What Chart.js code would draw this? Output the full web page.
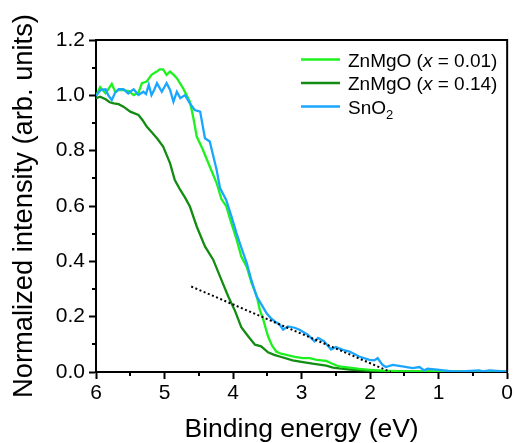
<!DOCTYPE html>
<html>
<head>
<meta charset="utf-8">
<script src="https://cdn.jsdelivr.net/npm/chart.js@4.4.1/dist/chart.umd.min.js"></script>
<style>
  html, body { margin: 0; padding: 0; background: #fff; }
  #wrap { width: 515px; height: 443px; }
</style>
</head>
<body>
<div id="wrap"><canvas id="vbChart" width="515" height="443"></canvas></div>
<script>
// --- DATA ---
// ZnMgO (x = 0.01)
const energyZnLow = [6.00, 5.94, 5.86, 5.77, 5.72, 5.66, 5.60, 5.52, 5.45, 5.38, 5.33, 5.26, 5.19, 5.12, 5.07, 5.02, 4.97, 4.92, 4.87, 4.82, 4.73, 4.63, 4.58, 4.53, 4.44, 4.34, 4.24, 4.17, 4.10, 4.04, 3.95, 3.88, 3.80, 3.73, 3.66, 3.61, 3.56, 3.49, 3.43, 3.37, 3.30, 3.22, 3.10, 2.98, 2.88, 2.78, 2.64, 2.55, 2.45, 2.30, 2.16, 2.00, 1.82, 1.60, 1.30, 1.00, 0.50, 0.00];
const intensityZnLow = [0.998, 1.030, 1.007, 1.041, 1.013, 1.020, 1.019, 1.015, 1.001, 1.010, 1.044, 1.050, 1.074, 1.085, 1.094, 1.094, 1.074, 1.086, 1.075, 1.062, 1.026, 0.977, 0.920, 0.851, 0.803, 0.743, 0.683, 0.625, 0.600, 0.550, 0.480, 0.417, 0.380, 0.321, 0.280, 0.225, 0.190, 0.129, 0.095, 0.074, 0.066, 0.062, 0.055, 0.050, 0.050, 0.044, 0.040, 0.030, 0.020, 0.016, 0.011, 0.008, 0.005, 0.003, 0.002, 0.001, 0.001, 0.001];

// ZnMgO (x = 0.14)
const energyZnHigh = [6.00, 5.94, 5.86, 5.80, 5.74, 5.67, 5.60, 5.50, 5.38, 5.32, 5.26, 5.18, 5.11, 5.02, 4.97, 4.92, 4.85, 4.77, 4.70, 4.63, 4.53, 4.41, 4.29, 4.17, 4.07, 3.97, 3.88, 3.78, 3.68, 3.59, 3.49, 3.40, 3.32, 3.13, 2.98, 2.84, 2.64, 2.54, 2.42, 2.30, 2.06, 1.80, 1.50, 1.00, 0.00];
const intensityZnHigh = [0.990, 0.995, 0.986, 0.975, 0.971, 0.968, 0.959, 0.941, 0.929, 0.910, 0.887, 0.865, 0.845, 0.815, 0.785, 0.755, 0.694, 0.658, 0.630, 0.598, 0.526, 0.454, 0.406, 0.333, 0.273, 0.220, 0.162, 0.129, 0.099, 0.093, 0.071, 0.062, 0.056, 0.042, 0.036, 0.030, 0.023, 0.016, 0.012, 0.009, 0.005, 0.003, 0.002, 0.001, 0.001];

// SnO2
const energySnO2 = [6.00, 5.93, 5.86, 5.82, 5.77, 5.72, 5.67, 5.60, 5.53, 5.49, 5.45, 5.38, 5.31, 5.27, 5.23, 5.19, 5.15, 5.11, 5.04, 4.97, 4.92, 4.87, 4.82, 4.77, 4.70, 4.63, 4.56, 4.48, 4.41, 4.34, 4.24, 4.19, 4.10, 4.02, 3.95, 3.88, 3.80, 3.73, 3.66, 3.60, 3.51, 3.45, 3.39, 3.32, 3.27, 3.20, 3.10, 3.03, 2.91, 2.81, 2.76, 2.67, 2.57, 2.50, 2.40, 2.30, 2.16, 2.01, 1.94, 1.89, 1.82, 1.77, 1.67, 1.53, 1.38, 1.28, 1.21, 1.16, 0.99, 0.80, 0.60, 0.41, 0.35, 0.26, 0.10, 0.00];
const intensitySnO2 = [0.998, 1.020, 1.022, 1.000, 0.983, 1.010, 1.022, 1.022, 1.007, 1.015, 1.022, 1.001, 1.013, 1.005, 1.038, 1.001, 1.020, 1.044, 1.013, 1.044, 1.020, 0.977, 1.013, 0.990, 1.001, 0.971, 0.947, 0.941, 0.845, 0.833, 0.731, 0.665, 0.622, 0.560, 0.502, 0.450, 0.394, 0.330, 0.275, 0.250, 0.212, 0.195, 0.183, 0.171, 0.153, 0.165, 0.160, 0.153, 0.135, 0.111, 0.123, 0.111, 0.081, 0.090, 0.080, 0.074, 0.056, 0.044, 0.042, 0.050, 0.026, 0.018, 0.026, 0.020, 0.014, 0.018, 0.006, 0.012, 0.008, 0.002, 0.003, 0.006, 0.002, 0.006, 0.003, 0.002];

// linear fit of the leading edge (dotted)
const energyFit = [4.61, 1.70];
const intensityFit = [0.309, 0.0];

const xTicks = [6, 5, 4, 3, 2, 1, 0];
const xMinorTicks = [5.5, 4.5, 3.5, 2.5, 1.5, 0.5];
const yTicks = [0, 0.2, 0.4, 0.6, 0.8, 1.0, 1.2];
const yMinorTicks = [0.1, 0.3, 0.5, 0.7, 0.9, 1.1];

// legend rows: text pieces, italic flag, subscript flag
const legendRows = [
    { color: '#1ef21e', parts: [['ZnMgO (', ''], ['x', 'i'], [' = 0.01)', '']] },
    { color: '#138c13', parts: [['ZnMgO (', ''], ['x', 'i'], [' = 0.14)', '']] },
    { color: '#1aa6ff', parts: [['SnO', ''], ['2', 's']] }
];

const FONT = "'Liberation Sans', Arial, Helvetica, sans-serif";

function toPoints(xs, ys) {
    return xs.map((x, i) => ({ x: x, y: ys[i] }));
}

// --- PLUGINS ---
// top/right frame and the short minor ticks on both axes
const framePlugin = {
    id: 'frame',
    afterDraw(chart) {
        const { ctx, chartArea: a, scales } = chart;
        ctx.save();
        ctx.strokeStyle = '#000';
        ctx.lineWidth = 2;
        ctx.beginPath();
        ctx.moveTo(a.left, a.top);
        ctx.lineTo(a.right, a.top);
        ctx.lineTo(a.right, a.bottom);
        ctx.stroke();

        ctx.beginPath();
        xMinorTicks.forEach(v => {
            const px = Math.round(scales.x.getPixelForValue(v));
            ctx.moveTo(px, a.bottom);
            ctx.lineTo(px, a.bottom + 4);
        });
        yMinorTicks.forEach(v => {
            const py = Math.round(scales.y.getPixelForValue(v));
            ctx.moveTo(a.left, py);
            ctx.lineTo(a.left - 4, py);
        });
        ctx.stroke();
        ctx.restore();
    }
};

// legend with italic x and subscript 2
const legendPlugin = {
    id: 'customLegend',
    afterDraw(chart) {
        const ctx = chart.ctx;
        const lineX0 = 301, lineX1 = 340, textX = 348;
        let y = 59.5;
        ctx.save();
        legendRows.forEach(row => {
            ctx.strokeStyle = row.color;
            ctx.lineWidth = 2.5;
            ctx.beginPath();
            ctx.moveTo(lineX0, y);
            ctx.lineTo(lineX1, y);
            ctx.stroke();

            let x = textX;
            ctx.fillStyle = '#000';
            ctx.textBaseline = 'alphabetic';
            row.parts.forEach(([txt, style]) => {
                let dy = 7;
                if (style === 'i') ctx.font = 'italic 19px ' + FONT;
                else if (style === 's') { ctx.font = '13px ' + FONT; dy = 12; }
                else ctx.font = '19px ' + FONT;
                ctx.fillText(txt, x, y + dy);
                x += ctx.measureText(txt).width;
            });
            y += 23.5;
        });
        ctx.restore();
    }
};

// --- CHART ---
const ctx = document.getElementById('vbChart').getContext('2d');
Chart.defaults.font.family = FONT;
Chart.defaults.color = '#000';

const lineBase = { borderWidth: 2.3, pointRadius: 0, tension: 0, fill: false };

new Chart(ctx, {
    type: 'line',
    data: {
        datasets: [
            { ...lineBase, label: 'fit', data: toPoints(energyFit, intensityFit), borderColor: '#000', borderWidth: 2, borderDash: [2, 2.5], order: 0 },
            { ...lineBase, label: 'SnO2', data: toPoints(energySnO2, intensitySnO2), borderColor: legendRows[2].color, order: 1 },
            { ...lineBase, label: 'ZnMgO (x = 0.01)', data: toPoints(energyZnLow, intensityZnLow), borderColor: legendRows[0].color, order: 2 },
            { ...lineBase, label: 'ZnMgO (x = 0.14)', data: toPoints(energyZnHigh, intensityZnHigh), borderColor: legendRows[1].color, order: 3 }
        ]
    },
    options: {
        responsive: false,
        animation: false,
        layout: { padding: { top: 40, right: 7, left: 0, bottom: 0 } },
        plugins: {
            legend: { display: false },
            tooltip: { enabled: false }
        },
        scales: {
            x: {
                type: 'linear',
                reverse: true,
                min: 0,
                max: 6,
                afterFit: s => { s.height = 71; },
                afterBuildTicks: s => { s.ticks = xTicks.map(v => ({ value: v })); },
                ticks: { font: { size: 21 }, padding: 2, maxRotation: 0, callback: v => String(v) },
                grid: { drawOnChartArea: false, drawTicks: true, tickLength: 7, tickWidth: 2, tickColor: '#000' },
                border: { display: true, color: '#000', width: 2 },
                title: { display: true, text: 'Binding energy (eV)', font: { size: 26.5 }, padding: { top: 0, bottom: -3 } }
            },
            y: {
                min: 0,
                max: 1.2,
                afterFit: s => { s.width = 96; },
                afterBuildTicks: s => { s.ticks = yTicks.map(v => ({ value: v })); },
                ticks: { font: { size: 21 }, padding: 4, callback: v => v.toFixed(1) },
                grid: { drawOnChartArea: false, drawTicks: true, tickLength: 7, tickWidth: 2, tickColor: '#000' },
                border: { display: true, color: '#000', width: 2 },
                title: { display: true, text: 'Normalized intensity (arb. units)', font: { size: 27.3 }, padding: { top: 8, bottom: 0 } }
            }
        }
    },
    plugins: [framePlugin, legendPlugin]
});
</script>
</body>
</html>
